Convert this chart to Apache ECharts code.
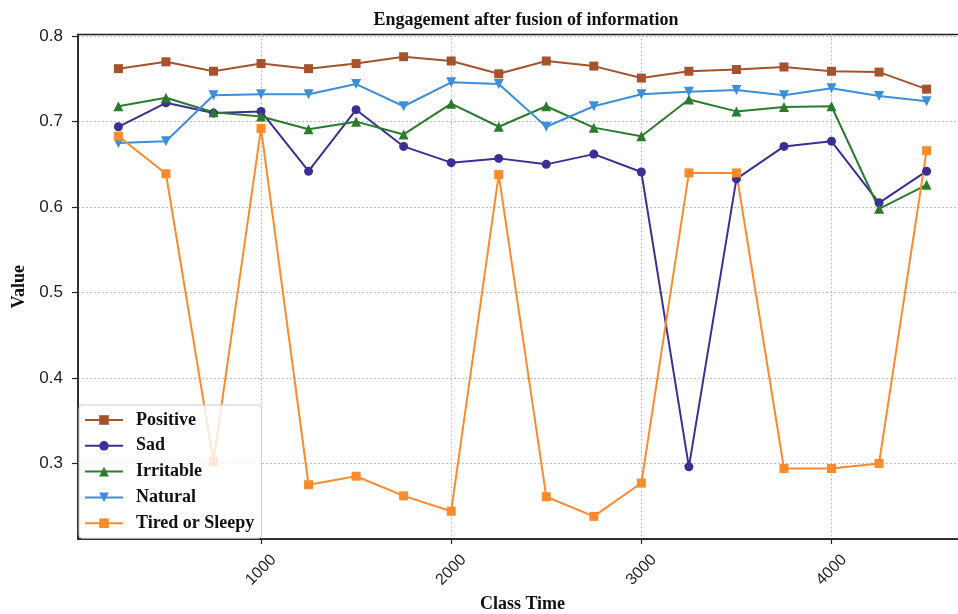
<!DOCTYPE html>
<html><head><meta charset="utf-8">
<script src="https://cdn.jsdelivr.net/npm/echarts@6/dist/echarts.min.js"></script>
<style>html,body{margin:0;padding:0;background:#fff}#c{width:958px;height:614px}</style>
</head><body><div id="c"></div>
<script>
const classTime = [250,500,750,1000,1250,1500,1750,2000,2250,2500,2750,3000,3250,3500,3750,4000,4250,4500];
const positive = [0.762,0.770,0.759,0.768,0.762,0.768,0.776,0.771,0.756,0.771,0.765,0.751,0.759,0.761,0.764,0.759,0.758,0.738];
const sad      = [0.694,0.722,0.710,0.712,0.642,0.714,0.671,0.652,0.657,0.650,0.662,0.641,0.296,0.633,0.671,0.677,0.605,0.642];
const irritable= [0.718,0.728,0.711,0.706,0.691,0.700,0.685,0.721,0.694,0.718,0.693,0.683,0.726,0.712,0.717,0.718,0.598,0.626];
const natural  = [0.675,0.677,0.731,0.732,0.732,0.744,0.718,0.746,0.744,0.694,0.718,0.732,0.735,0.737,0.731,0.739,0.730,0.724];
const tired    = [0.683,0.639,0.302,0.692,0.275,0.285,0.262,0.244,0.638,0.261,0.238,0.277,0.640,0.640,0.294,0.294,0.300,0.666];
const seriesNames = ['Positive','Sad','Irritable','Natural','Tired or Sleepy'];
const yTicks = [0.3,0.4,0.5,0.6,0.7,0.8];
const xTicks = [1000,2000,3000,4000];

const colors = ['#a5532d','#3a2f95','#2a7b2e','#3d8ed6','#fb8a2c'];
const symbols = ['rect','circle','triangle','triangle','rect'];
const rotates = [0,0,0,180,0];
const sizes = [9,9,10,10,9];
const values = [positive, sad, irritable, natural, tired];

const serif = '"Liberation Serif","Times New Roman",serif';
const sans = '"Liberation Sans",Arial,sans-serif';

const chart = echarts.init(document.getElementById('c'), null, {renderer:'canvas'});
chart.setOption({
  animation: false,
  backgroundColor: '#fff',
  title: {
    text: 'Engagement after fusion of information',
    left: 521, top: 6, textAlign: 'center',
    textStyle: {fontFamily: serif, fontWeight: 'bold', fontSize: 18, color: '#111'}
  },
  grid: {left: 78, right: -9, top: 34.5, bottom: 75, containLabel: false, outerBoundsMode: 'none',
    show: true, borderColor: '#222', borderWidth: 1.5},
  legend: {
    orient: 'vertical', left: 79, top: 405,
    padding: [6, 7, 6, 5],
    itemWidth: 38, itemHeight: 12, itemGap: 7.8,
    backgroundColor: 'rgba(255,255,255,0.8)', borderColor: '#ccc', borderWidth: 1, borderRadius: 3,
    textStyle: {fontFamily: serif, fontWeight: 'bold', fontSize: 18, lineHeight: 18, color: '#111', padding: [0,0,0,8]},
    data: seriesNames
  },
  xAxis: {
    type: 'value', min: 37.5, max: 4712.5,
    name: 'Class Time', nameLocation: 'middle', nameGap: 54,
    nameTextStyle: {fontFamily: serif, fontWeight: 'bold', fontSize: 18, color: '#111'},
    axisLine: {show: true, lineStyle: {color: '#222', width: 1.5}},
    axisTick: {show: true, length: 5, customValues: xTicks, lineStyle: {color: '#222', width: 1.2}},
    axisLabel: {customValues: xTicks, rotate: 45, align: 'center', verticalAlign: 'middle', margin: 31,
      fontFamily: sans, fontSize: 16, color: '#222', formatter: v => String(v)},
    splitLine: {show: true, lineStyle: {color: '#bbb', type: [2,2], width: 1}}
  },
  yAxis: {
    type: 'value', min: 0.2115, max: 0.802,
    name: 'Value', nameLocation: 'middle', nameGap: 48,
    nameTextStyle: {fontFamily: serif, fontWeight: 'bold', fontSize: 18, color: '#111'},
    axisLine: {show: true, lineStyle: {color: '#222', width: 1.5}},
    axisTick: {show: true, length: 6, customValues: yTicks, lineStyle: {color: '#222', width: 1.2}},
    axisLabel: {customValues: yTicks, margin: 15, fontFamily: sans, fontSize: 17, color: '#222',
      formatter: v => v.toFixed(1)},
    splitLine: {show: true, lineStyle: {color: '#bbb', type: [2,2], width: 1}}
  },
  series: seriesNames.map((name, k) => ({
    name, type: 'line',
    data: classTime.map((t, i) => [t, values[k][i]]),
    symbol: symbols[k], symbolSize: sizes[k], symbolRotate: rotates[k],
    showAllSymbol: true,
    lineStyle: {color: colors[k], width: 2},
    itemStyle: {color: colors[k]},
    emphasis: {disabled: true}
  }))
});
</script></body></html>
